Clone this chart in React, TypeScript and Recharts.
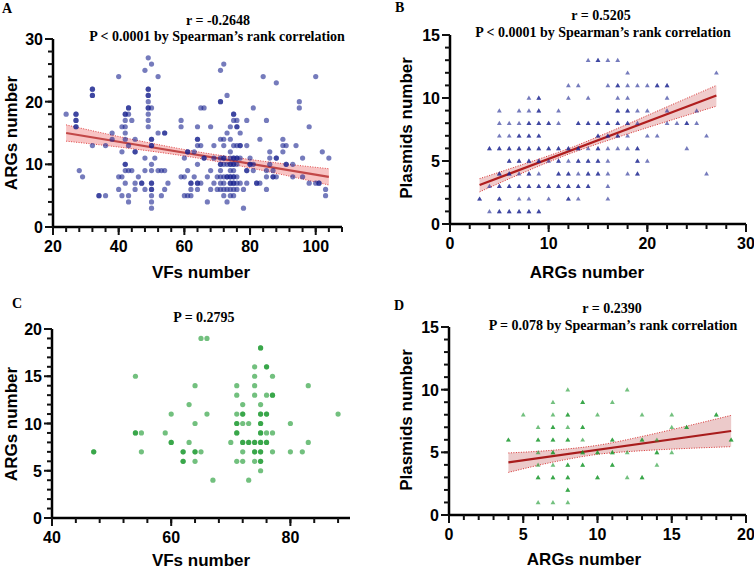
/* ── Four-panel correlation scatter figure (A–D) ───────────────────── */

import { ComposedChart, Scatter, Line, Area, XAxis, YAxis } from 'recharts';

type Pt = [number, number];

const SANS = '"Liberation Sans", Arial, sans-serif';
const SERIF = '"Liberation Serif", "Times New Roman", serif';

/* ── Panel A: VFs number vs ARGs number (duplicates = overlapped dots) ── */
const PANEL_A_POINTS: Pt[] = [
  [24, 18], [27, 18], [27, 18], [27, 17], [27, 17], [27, 16], [27, 16], [28, 9], [29, 8],
  [32, 22], [32, 22], [32, 21], [32, 21], [32, 13], [34, 5], [34, 5], [36, 5], [36, 13],
  [38, 15], [38, 14], [40, 24], [40, 8], [40, 6], [41, 8], [41, 12], [41, 16], [41, 5],
  [42, 18], [42, 18], [42, 17], [42, 16], [42, 15], [42, 10], [42, 10], [42, 9], [42, 7], [42, 14],
  [43, 19], [43, 19], [43, 18], [43, 13], [43, 9], [43, 5], [43, 4],
  [44, 17], [44, 9], [45, 14], [45, 12], [45, 12], [45, 7], [45, 6], [46, 8], [47, 7], [47, 7],
  [48, 25], [48, 11], [48, 9], [48, 6],
  [49, 27], [49, 22], [49, 22], [49, 21], [49, 21], [49, 20], [49, 19], [49, 19], [49, 18], [49, 17], [49, 16],
  [50, 26], [50, 19], [50, 14], [50, 14], [50, 13], [50, 13], [50, 10], [50, 9], [50, 7], [50, 7],
  [50, 6], [50, 6], [50, 5], [50, 4], [50, 3],
  [51, 11], [52, 24], [52, 9], [52, 15], [53, 9], [53, 5], [54, 15], [54, 15], [54, 9], [54, 6], [55, 7],
  [59, 8], [59, 17], [59, 16], [60, 8], [60, 11], [60, 5],
  [61, 12], [61, 12], [61, 9], [61, 5], [62, 7], [62, 7], [62, 6], [62, 5], [63, 12], [63, 8],
  [64, 14], [64, 14], [64, 13], [64, 16], [64, 10], [64, 7], [64, 7], [64, 6],
  [65, 19], [65, 13], [65, 7], [66, 19], [66, 11], [66, 11], [67, 8], [67, 4],
  [68, 16], [68, 9], [68, 6], [69, 13], [69, 11], [69, 7], [70, 8], [70, 6],
  [71, 25], [71, 20], [71, 20], [71, 14], [71, 11], [71, 10], [71, 10], [71, 9], [71, 8], [71, 7], [71, 6],
  [72, 26], [72, 13], [72, 14], [72, 11], [72, 11], [72, 10], [72, 8], [72, 7], [72, 6], [72, 5],
  [73, 21], [73, 15], [73, 10], [73, 8], [73, 8], [73, 6], [73, 4],
  [74, 16], [74, 14], [74, 12], [74, 11], [74, 10], [74, 10], [74, 9], [74, 8], [74, 8], [74, 7], [74, 7], [74, 6], [74, 5],
  [75, 18], [75, 18], [75, 17], [75, 13], [75, 11], [75, 11], [75, 10], [75, 10], [75, 9], [75, 8], [75, 8],
  [75, 7], [75, 7], [75, 6], [75, 5],
  [76, 16], [76, 16], [76, 17], [76, 13], [76, 11], [76, 11], [76, 10], [76, 8], [76, 7], [76, 6],
  [77, 13], [77, 13], [77, 15], [77, 11], [77, 7], [78, 6], [78, 3],
  [79, 17], [79, 13], [79, 9], [79, 9], [79, 7], [80, 11], [80, 10], [80, 10], [81, 10], [81, 19], [81, 9],
  [82, 7], [82, 7], [83, 14], [83, 7], [84, 24], [85, 17], [85, 9], [85, 8], [85, 6],
  [86, 11], [86, 12], [86, 10], [87, 9], [87, 8], [87, 8], [88, 23], [88, 11], [88, 11], [88, 8],
  [90, 13], [90, 12], [90, 14], [91, 13], [91, 10], [91, 10], [93, 10], [93, 8], [94, 13],
  [95, 20], [95, 19], [96, 11], [96, 8], [98, 16], [98, 7],
  [100, 24], [100, 7], [101, 7], [101, 7], [102, 12], [103, 6], [103, 5], [104, 11],
];
const FIT_A_X = [24, 104];
const FIT_A_Y = [15.0, 8.0];
const BAND_A_X = [24, 44, 64, 84, 104];
const BAND_A_LO = [13.7, 12.5, 11.0, 9.0, 6.7];
const BAND_A_HI = [16.3, 14.0, 12.0, 10.5, 9.3];

/* ── Panel B: ARGs number vs Plasmids number ── */
const PANEL_B_POINTS: Pt[] = [
  [4, 1], [5, 1], [5, 1], [6, 1], [6, 1], [7, 1], [7, 1], [8, 1], [8, 1], [9, 1], [9, 1],
  [3, 2], [3, 2], [5, 2], [5, 2], [7, 2], [8, 2], [10, 2], [12, 2], [12, 2], [13, 2], [16, 2],
  [4, 3], [5, 3], [5, 3], [6, 3], [6, 3], [7, 3], [7, 3], [8, 3], [8, 3], [9, 3], [9, 3], [10, 3], [10, 3],
  [11, 3], [11, 3], [12, 3], [12, 3], [13, 3], [13, 3], [14, 3], [14, 3], [16, 3],
  [5, 4], [5, 4], [6, 4], [6, 4], [7, 4], [8, 4], [8, 4], [9, 4], [11, 4], [11, 4], [12, 4], [12, 4],
  [13, 4], [14, 4], [14, 4], [15, 4], [15, 4], [16, 4], [18, 4], [19, 4], [19, 4], [26, 4],
  [6, 5], [6, 5], [7, 5], [7, 5], [8, 5], [8, 5], [9, 5], [9, 5], [10, 5], [11, 5], [11, 5], [12, 5],
  [13, 5], [13, 5], [14, 5], [14, 5], [15, 5], [15, 5], [16, 5], [19, 5], [19, 5], [20, 5],
  [4, 6], [4, 6], [5, 6], [5, 6], [6, 6], [6, 6], [7, 6], [7, 6], [8, 6], [8, 6], [9, 6], [9, 6],
  [10, 6], [10, 6], [11, 6], [11, 6], [12, 6], [12, 6], [13, 6], [13, 6], [14, 6], [15, 6], [15, 6],
  [16, 6], [17, 6], [18, 6], [19, 6], [19, 6], [24, 6],
  [5, 7], [6, 7], [7, 7], [7, 7], [8, 7], [8, 7], [9, 7], [9, 7], [15, 7], [15, 7], [16, 7], [16, 7],
  [17, 7], [17, 7], [18, 7], [20, 7], [21, 7], [26, 7],
  [5, 8], [6, 8], [7, 8], [8, 8], [8, 8], [9, 8], [9, 8], [10, 8], [10, 8], [11, 8], [13, 8], [13, 8],
  [14, 8], [14, 8], [15, 8], [15, 8], [16, 8], [16, 8], [17, 8], [17, 8], [18, 8], [18, 8], [19, 8],
  [22, 8], [23, 8], [24, 8], [24, 8], [25, 8],
  [5, 9], [7, 9], [8, 9], [9, 9], [9, 9], [11, 9], [17, 9], [17, 9], [18, 9], [18, 9], [19, 9], [20, 9], [22, 9], [25, 9],
  [8, 10], [9, 10], [9, 10], [12, 10], [14, 10], [17, 10], [18, 10], [22, 10],
  [12, 11], [13, 11], [16, 11], [17, 11], [17, 11], [18, 11], [19, 11], [20, 11], [21, 11], [21, 11], [22, 11], [22, 11],
  [18, 12], [27, 12], [14, 13], [15, 13], [15, 13], [16, 13], [17, 13],
];
const FIT_B_X = [3, 27];
const FIT_B_Y = [3.1, 10.2];
const BAND_B_X = [3, 7, 12, 17, 22, 27];
const BAND_B_LO = [2.55, 3.93, 5.54, 6.89, 8.14, 9.35];
const BAND_B_HI = [3.6, 4.63, 5.98, 7.59, 9.3, 11.0];

/* ── Panel C: VFs number vs ARGs number (no fit) ── */
const PANEL_C_POINTS: Pt[] = [
  [47, 7], [47, 7], [54, 15], [54, 9], [54, 9], [55, 9], [55, 7], [59, 9], [60, 11], [60, 8], [60, 8],
  [62, 7], [62, 7], [62, 6], [62, 6], [63, 12], [63, 8], [64, 14], [64, 10], [64, 7], [64, 7], [64, 6],
  [65, 19], [65, 7], [66, 19], [66, 11], [67, 4], [70, 8],
  [71, 14], [71, 13], [71, 11], [71, 10], [71, 10], [71, 9], [71, 9], [71, 6],
  [72, 12], [72, 11], [72, 11], [72, 10], [72, 8], [72, 8], [72, 7], [72, 6],
  [73, 10], [73, 8], [73, 8], [73, 4],
  [74, 16], [74, 15], [74, 14], [74, 13], [74, 8], [74, 8], [74, 7], [74, 7], [74, 6],
  [75, 18], [75, 18], [75, 12], [75, 11], [75, 11], [75, 10], [75, 10], [75, 9], [75, 9], [75, 8], [75, 8],
  [75, 7], [75, 7], [75, 6], [75, 6], [75, 5],
  [76, 16], [76, 16], [76, 13], [76, 11], [76, 11], [76, 9], [76, 8], [76, 8],
  [77, 15], [77, 13], [77, 13], [77, 9], [77, 7], [80, 10], [80, 7], [82, 7], [83, 14], [83, 8], [88, 11],
];

/* ── Panel D: ARGs number vs Plasmids number ── */
const PANEL_D_POINTS: Pt[] = [
  [8, 10], [12, 10], [7, 9], [9, 9], [9, 9], [11, 9],
  [5, 8], [7, 8], [8, 8], [8, 8], [10, 8], [13, 8], [15, 8], [18, 8], [18, 8],
  [6, 7], [7, 7], [7, 7], [8, 7], [9, 7], [9, 7], [15, 7], [16, 7], [16, 7],
  [4, 6], [4, 6], [6, 6], [6, 6], [7, 6], [7, 6], [8, 6], [8, 6], [9, 6], [11, 6], [11, 6], [13, 6], [13, 6], [14, 6], [19, 6], [19, 6],
  [6, 5], [7, 5], [7, 5], [9, 5], [9, 5], [10, 5], [10, 5], [11, 5], [11, 5], [12, 5], [14, 5], [14, 5], [15, 5],
  [6, 4], [7, 4], [8, 4], [8, 4], [9, 4], [9, 4], [11, 4], [11, 4], [14, 4],
  [6, 3], [6, 3], [7, 3], [7, 3], [8, 3], [8, 3], [10, 3], [10, 3], [12, 3], [13, 3], [13, 3],
  [8, 2], [8, 2], [6, 1], [7, 1], [8, 1],
];
const FIT_D_X = [4, 19];
const FIT_D_Y = [4.2, 6.7];
const BAND_D_X = [4, 7, 10, 13, 16, 19];
const BAND_D_LO = [3.4, 4.22, 4.84, 5.13, 5.31, 5.45];
const BAND_D_HI = [4.95, 5.17, 5.56, 6.27, 7.09, 7.95];

/* helpers */
function steps(from: number, to: number, step: number) {
  const out: number[] = [];
  for (let v = from; v <= to + 1e-9; v += step) out.push(Math.round(v * 100) / 100);
  return out;
}
const toXY = (pts: Pt[]) => pts.map(([x, y]) => ({ x, y }));
const toLine = (xs: number[], ys: number[]) => xs.map((x, i) => ({ x, y: ys[i] }));
const toBand = (xs: number[], lo: number[], hi: number[]) =>
  xs.map((x, i) => ({ x, lo: lo[i], hi: hi[i], range: [lo[i], hi[i]] }));

const TICK_FONT = 16;
const MINOR = 5;    // native tick length, every tick
const GAP = 1;      // tickMargin
const MAJOR = 8;    // major ticks are extended to this length

/* the tick coordinate handed to these sits MINOR + GAP px off the axis line */
function XTick(props: any) {
  const { x, y, payload, majors } = props;
  if (!majors.includes(payload.value)) return <g />;
  const ay = Number(y) - MINOR - GAP;
  return (
    <g>
      <rect x={Number(x) - 1} y={ay} width={2} height={MAJOR} fill="#111" />
      <text x={x} y={ay + 25} textAnchor="middle" fontFamily={SANS} fontWeight="bold"
        fontSize={TICK_FONT} fill="#000">
        {payload.value}
      </text>
    </g>
  );
}

function YTick(props: any) {
  const { x, y, payload, majors } = props;
  if (!majors.includes(payload.value)) return <g />;
  const ax = Number(x) + MINOR + GAP;
  return (
    <g>
      <rect x={ax - MAJOR} y={Number(y) - 1} width={MAJOR} height={2} fill="#111" />
      <text x={ax - 10} y={Number(y) + 6} textAnchor="end" fontFamily={SANS} fontWeight="bold"
        fontSize={TICK_FONT} fill="#000">
        {payload.value}
      </text>
    </g>
  );
}

const dotShape = (fill: string) => (p: any) =>
  <circle cx={p.cx} cy={p.cy} r={2.6} fill={fill} fillOpacity={0.6} />;

const triShape = (fill: string) => (p: any) => (
  <polygon
    points={`${p.cx},${p.cy - 2.4} ${p.cx - 2.4},${p.cy + 1.8} ${p.cx + 2.4},${p.cy + 1.8}`}
    fill={fill}
    fillOpacity={0.6}
  />
);

type PanelCfg = {
  left: number; top: number; w: number; h: number;
  plotLeft: number; plotTop: number; plotRight: number; plotBottom: number;
  xDomain: [number, number]; xTicks: number[]; xMajor: number[];
  yDomain: [number, number]; yTicks: number[]; yMajor: number[];
  points: { x: number; y: number }[];
  shape: (p: any) => any;
  fit?: { x: number; y: number }[];
  band?: { x: number; lo: number; hi: number; range: number[] }[];
  lineColor?: string; bandFill?: string; bandEdge?: string;
};

const AXIS_LINE = { stroke: '#000', strokeWidth: 2.5 };
const TICK_LINE = { stroke: '#111', strokeWidth: 2 };

function Panel({ cfg }: { cfg: PanelCfg }) {
  return (
    <ComposedChart
      width={cfg.w}
      height={cfg.h}
      margin={{ top: cfg.plotTop, right: cfg.w - cfg.plotRight, bottom: 0, left: 0 }}
      style={{ position: 'absolute', left: cfg.left, top: cfg.top }}
    >
      <XAxis
        type="number"
        dataKey="x"
        domain={cfg.xDomain}
        ticks={cfg.xTicks}
        interval={0}
        tickSize={MINOR}
        tickMargin={GAP}
        height={cfg.h - cfg.plotBottom}
        axisLine={AXIS_LINE}
        tickLine={TICK_LINE}
        tick={(p: any) => <XTick {...p} majors={cfg.xMajor} />}
      />
      <YAxis
        type="number"
        domain={cfg.yDomain}
        ticks={cfg.yTicks}
        interval={0}
        tickSize={MINOR}
        tickMargin={GAP}
        width={cfg.plotLeft}
        axisLine={AXIS_LINE}
        tickLine={TICK_LINE}
        tick={(p: any) => <YTick {...p} majors={cfg.yMajor} />}
      />
      {cfg.band && (
        <Area data={cfg.band} dataKey="range" type="monotone" fill={cfg.bandFill} fillOpacity={1}
          stroke="none" isAnimationActive={false} />
      )}
      {cfg.band && (
        <Line data={cfg.band} dataKey="lo" type="monotone" stroke={cfg.bandEdge} strokeWidth={1}
          strokeDasharray="1 1.5" dot={false} isAnimationActive={false} />
      )}
      {cfg.band && (
        <Line data={cfg.band} dataKey="hi" type="monotone" stroke={cfg.bandEdge} strokeWidth={1}
          strokeDasharray="1 1.5" dot={false} isAnimationActive={false} />
      )}
      <Scatter data={cfg.points} dataKey="y" shape={cfg.shape} isAnimationActive={false} />
      {cfg.fit && (
        <Line data={cfg.fit} dataKey="y" type="linear" stroke={cfg.lineColor} strokeWidth={2.2}
          dot={false} isAnimationActive={false} />
      )}
    </ComposedChart>
  );
}

const BLUE = '#19238f';
const GREEN = '#149628';

const PANELS: PanelCfg[] = [
  {
    left: 0, top: 0, w: 377, h: 285, plotLeft: 53, plotTop: 39, plotRight: 342, plotBottom: 227,
    xDomain: [20, 108], xTicks: steps(20, 108, 4), xMajor: [20, 40, 60, 80, 100],
    yDomain: [0, 30], yTicks: steps(0, 30, 2), yMajor: [0, 10, 20, 30],
    points: toXY(PANEL_A_POINTS), shape: dotShape(BLUE),
    fit: toLine(FIT_A_X, FIT_A_Y), band: toBand(BAND_A_X, BAND_A_LO, BAND_A_HI),
    lineColor: '#c24848', bandFill: '#f8c4c4', bandEdge: '#e04848',
  },
  {
    left: 377, top: 0, w: 377, h: 285, plotLeft: 73, plotTop: 35, plotRight: 369, plotBottom: 224,
    xDomain: [0, 30], xTicks: steps(0, 30, 2), xMajor: [0, 10, 20, 30],
    yDomain: [0, 15], yTicks: steps(0, 15, 1), yMajor: [0, 5, 10, 15],
    points: toXY(PANEL_B_POINTS), shape: triShape(BLUE),
    fit: toLine(FIT_B_X, FIT_B_Y), band: toBand(BAND_B_X, BAND_B_LO, BAND_B_HI),
    lineColor: '#b01e1e', bandFill: '#f0cccc', bandEdge: '#d83030',
  },
  {
    left: 0, top: 285, w: 377, h: 284, plotLeft: 52, plotTop: 44, plotRight: 350, plotBottom: 233,
    xDomain: [40, 90], xTicks: steps(40, 88, 4), xMajor: [40, 60, 80],
    yDomain: [0, 20], yTicks: steps(0, 20, 1), yMajor: [0, 5, 10, 15, 20],
    points: toXY(PANEL_C_POINTS), shape: dotShape(GREEN),
  },
  {
    left: 377, top: 285, w: 377, h: 284, plotLeft: 72, plotTop: 42, plotRight: 369, plotBottom: 230,
    xDomain: [0, 20], xTicks: steps(0, 20, 1), xMajor: [0, 5, 10, 15, 20],
    yDomain: [0, 15], yTicks: steps(0, 15, 1), yMajor: [0, 5, 10, 15],
    points: toXY(PANEL_D_POINTS), shape: triShape(GREEN),
    fit: toLine(FIT_D_X, FIT_D_Y), band: toBand(BAND_D_X, BAND_D_LO, BAND_D_HI),
    lineColor: '#a81c1c', bandFill: '#eccaca', bandEdge: '#d83030',
  },
];

export default function App() {
  const serifBold = { fontFamily: SERIF, fontWeight: 'bold' as const, fill: '#000' };
  const sansBold = { fontFamily: SANS, fontWeight: 'bold' as const, fill: '#000' };
  return (
    <div style={{ position: 'absolute', left: 0, top: 0, width: 754, height: 569, background: '#fff' }}>
      {/* ── titles, panel letters, axis titles (drawn underneath the charts) ── */}
      <svg width={754} height={569} style={{ position: 'absolute', left: 0, top: 0 }}>
        <text x={2} y={13} fontSize={14} {...serifBold}>A</text>
        <text x={395} y={12} fontSize={14} {...serifBold}>B</text>
        <text x={12} y={308} fontSize={14} {...serifBold}>C</text>
        <text x={394} y={310} fontSize={14} {...serifBold}>D</text>

        <text x={218} y={25} fontSize={14} textAnchor="middle" {...serifBold}>r = -0.2648</text>
        <text x={217} y={41} fontSize={14} textAnchor="middle" {...serifBold}>P &lt; 0.0001 by Spearman’s rank correlation</text>
        <text x={601} y={20} fontSize={14} textAnchor="middle" {...serifBold}>r = 0.5205</text>
        <text x={603} y={37} fontSize={14} textAnchor="middle" {...serifBold}>P &lt; 0.0001 by Spearman’s rank correlation</text>
        <text x={204} y={322} fontSize={14} textAnchor="middle" {...serifBold}>P = 0.2795</text>
        <text x={612} y={313} fontSize={14} textAnchor="middle" {...serifBold}>r = 0.2390</text>
        <text x={613} y={330} fontSize={14} textAnchor="middle" {...serifBold}>P = 0.078 by Spearman’s rank correlation</text>

        <text x={201} y={278} fontSize={17} textAnchor="middle" {...sansBold}>VFs number</text>
        <text x={17} y={133} fontSize={17} textAnchor="middle" transform="rotate(-90 17 133)" {...sansBold}>ARGs number</text>
        <text x={587} y={278} fontSize={17} textAnchor="middle" {...sansBold}>ARGs number</text>
        <text x={412} y={128} fontSize={17} textAnchor="middle" transform="rotate(-90 412 128)" {...sansBold}>Plasmids number</text>
        <text x={201} y={566} fontSize={17} textAnchor="middle" {...sansBold}>VFs number</text>
        <text x={17} y={424} fontSize={17} textAnchor="middle" transform="rotate(-90 17 424)" {...sansBold}>ARGs number</text>
        <text x={584} y={565} fontSize={17} textAnchor="middle" {...sansBold}>ARGs number</text>
        <text x={412} y={420} fontSize={17} textAnchor="middle" transform="rotate(-90 412 420)" {...sansBold}>Plasmids number</text>
      </svg>

      {PANELS.map((cfg, i) => <Panel key={i} cfg={cfg} />)}
    </div>
  );
}
